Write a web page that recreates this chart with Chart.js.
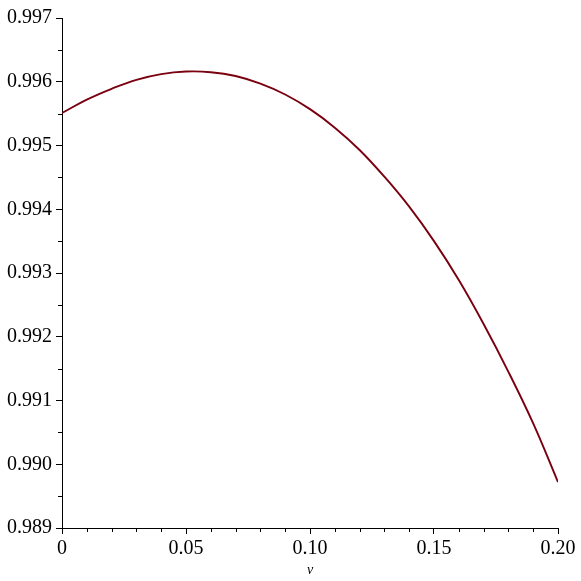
<!DOCTYPE html>
<html>
<head>
<meta charset="utf-8">
<script src="https://cdn.jsdelivr.net/npm/chart.js@4/dist/chart.umd.min.js"></script>
<style>
html,body{margin:0;padding:0;background:#fff;}
#c{display:block;}
</style>
</head>
<body>
<canvas id="c" width="581" height="581"></canvas>
<script>
const vValues = [0.00,0.01,0.02,0.03,0.04,0.05,0.06,0.07,0.08,0.09,0.10,0.11,0.12,0.13,0.14,0.15,0.16,0.17,0.18,0.19,0.20];
const yValues = [0.99551,0.99572,0.99589,0.99603,0.99612,0.99616,0.99615,0.99609,0.99597,0.99580,0.99557,0.99528,0.99493,0.99451,0.99404,0.99350,0.99289,0.99220,0.99145,0.99064,0.98972];
const xTickLabels = ["0","0.05","0.10","0.15","0.20"];
const yTickLabels = ["0.989","0.990","0.991","0.992","0.993","0.994","0.995","0.996","0.997"];
const xAxisTitle = "v";

const FONT = "'Liberation Serif','Times New Roman',serif";
const points = vValues.map((v,i)=>({x:v,y:yValues[i]}));

const minorTicks = {
  id:'minorTicks',
  afterDraw(chart){
    const ctx = chart.ctx;
    const xs = chart.scales.x, ys = chart.scales.y;
    ctx.save();
    ctx.strokeStyle = '#000';
    ctx.lineWidth = 1;
    ctx.beginPath();
    for(let i=0;i<=20;i++){
      if(i%5===0) continue;
      const px = Math.round(xs.getPixelForValue(i*0.01))+0.5;
      ctx.moveTo(px, ys.bottom);
      ctx.lineTo(px, ys.bottom+4);
    }
    for(let i=0;i<16;i++){
      if(i%2===0) continue;
      const py = Math.round(ys.getPixelForValue(0.989+i*0.0005))+0.5;
      ctx.moveTo(xs.left, py);
      ctx.lineTo(xs.left-4, py);
    }
    ctx.stroke();
    ctx.restore();
  }
};

new Chart(document.getElementById('c'),{
  type:'line',
  data:{datasets:[{
    data:points,
    borderColor:'#7A0010',
    borderWidth:1.9,
    pointRadius:0,
    tension:0.4,
    fill:false
  }]},
  options:{
    responsive:false,
    animation:false,
    layout:{padding:{top:18,right:23,left:0,bottom:0}},
    plugins:{legend:{display:false},tooltip:{enabled:false}},
    scales:{
      x:{
        type:'linear',min:0,max:0.2,
        afterBuildTicks(s){ s.ticks = xTickLabels.map(t=>({value:parseFloat(t)})); },
        afterFit(s){ s.height = 581-528; },
        ticks:{
          color:'#000',font:{family:FONT,size:20},padding:3,maxRotation:0,
          callback:(v,i)=>xTickLabels[i]
        },
        grid:{display:true,drawOnChartArea:false,tickLength:6,tickColor:'#000',color:'#000'},
        border:{display:true,color:'#000',width:1},
        title:{display:true,text:xAxisTitle,color:'#000',font:{family:FONT,size:14,style:'italic'},padding:{top:0,bottom:2}}
      },
      y:{
        type:'linear',min:0.989,max:0.997,
        afterBuildTicks(s){ s.ticks = yTickLabels.map(t=>({value:parseFloat(t)})); },
        afterFit(s){ s.width = 62; },
        ticks:{
          color:'#000',font:{family:FONT,size:20},padding:4,
          callback:(v,i)=>yTickLabels[i]
        },
        grid:{display:true,drawOnChartArea:false,tickLength:6,tickColor:'#000',color:'#000'},
        border:{display:true,color:'#000',width:1}
      }
    }
  },
  plugins:[minorTicks]
});
</script>
</body>
</html>
